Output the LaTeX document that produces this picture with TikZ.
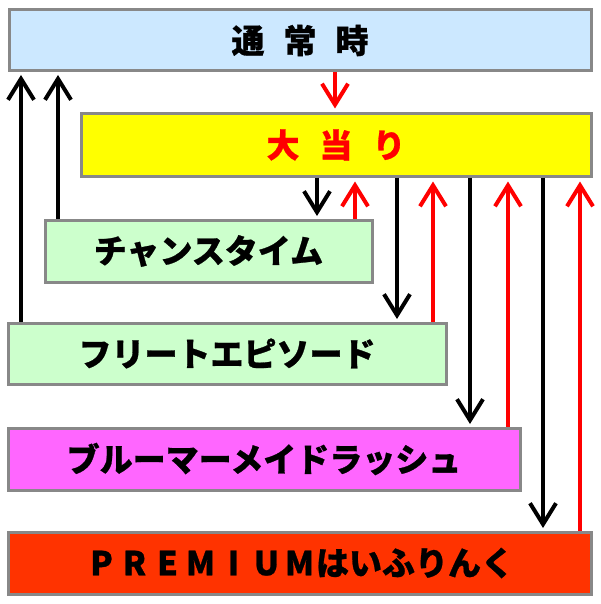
\documentclass[tikz,border=0pt]{standalone}
\usepackage{fontspec}
\setmainfont{Noto Sans CJK JP}[BoldFeatures={FakeBold=0.8}]
\usetikzlibrary{arrows.meta}
\definecolor{topblue}{HTML}{CCE8FF}
\definecolor{hityellow}{HTML}{FFFF00}
\definecolor{lgreen}{HTML}{CCFFCC}
\definecolor{lmagenta}{HTML}{FF66FF}
\definecolor{premred}{HTML}{FF3300}
\definecolor{boxgray}{HTML}{888888}
\definecolor{arrred}{HTML}{FF0000}
\newcommand{\fw}[1]{\makebox[1em]{#1}}
\tikzset{
  box/.style={draw=boxgray, line width=3pt, inner sep=0pt, outer sep=0pt,
    font=\fontsize{33pt}{36pt}\selectfont\bfseries},
  conn/.style={line width=4pt, -{Straight Barb[length=21pt,width=26pt]},
    shorten <=1.5pt},
  blackarr/.style={conn, draw=black, shorten >=4pt},
  redarr/.style={conn, draw=arrred, shorten >=5.5pt},
}
\begin{document}
\begin{tikzpicture}[x=1pt,y=-1pt]
\fill[white] (0,0) rectangle (600,604);
\useasboundingbox (0,0) rectangle (600,604);
\node[box, fill=topblue, minimum width=582pt, minimum height=61pt] (top) at (300,40.5)
  {通\hspace{19pt}常\hspace{19pt}時};
\node[box, fill=hityellow, text=arrred, minimum width=510pt, minimum height=62pt] (hit) at (336,145)
  {大\hspace{20pt}当\hspace{20pt}り};
\node[box, fill=lgreen, minimum width=327pt, minimum height=62pt] (chance) at (208.5,251)
  {チャンスタイム};
\node[box, fill=lgreen, minimum width=438pt, minimum height=61pt] (freet) at (227,353.5)
  {フリートエピソード};
\node[box, fill=lmagenta, minimum width=512pt, minimum height=62pt] (blue) at (264,459)
  {ブルーマーメイドラッシュ};
\node[box, fill=premred, minimum width=583pt, minimum height=62pt] (prem) at (299.5,563)
  {\fw{P}\fw{R}\fw{E}\fw{M}\fw{I}\fw{U}\fw{M}はいふりんく};
\coordinate (xa) at (335,0);
\coordinate (xb) at (21,0);
\coordinate (xc) at (58,0);
\coordinate (xd) at (317,0);
\coordinate (xe) at (355,0);
\coordinate (xf) at (397,0);
\coordinate (xg) at (433,0);
\coordinate (xh) at (470,0);
\coordinate (xi) at (508,0);
\coordinate (xj) at (543,0);
\coordinate (xk) at (580,0);
\draw[redarr] (top.south -| xa) -- (hit.north -| xa);
\draw[blackarr] (freet.north -| xb) -- (top.south -| xb);
\draw[blackarr] (chance.north -| xc) -- (top.south -| xc);
\draw[blackarr] (hit.south -| xd) -- (chance.north -| xd);
\draw[redarr] (chance.north -| xe) -- (hit.south -| xe);
\draw[blackarr] (hit.south -| xf) -- (freet.north -| xf);
\draw[redarr] (freet.north -| xg) -- (hit.south -| xg);
\draw[blackarr] (hit.south -| xh) -- (blue.north -| xh);
\draw[redarr] (blue.north -| xi) -- (hit.south -| xi);
\draw[blackarr] (hit.south -| xj) -- (prem.north -| xj);
\draw[redarr] (prem.north -| xk) -- (hit.south -| xk);
\end{tikzpicture}
\end{document}
